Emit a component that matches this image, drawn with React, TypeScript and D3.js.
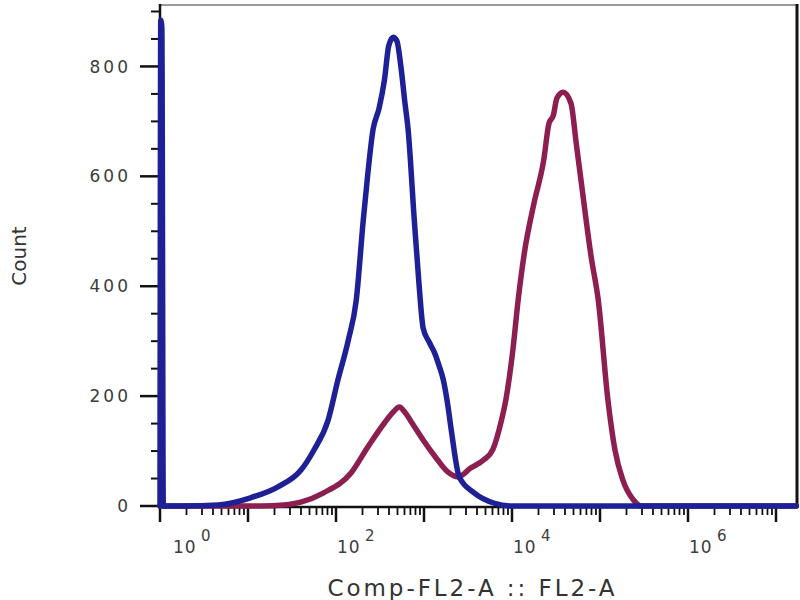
import React, { useEffect } from 'react';
import * as d3 from 'd3';

// FL2-A intensity values and event counts
const blueFL2 = [1, 1.02, 1.05, 1.09, 1.86, 4.6, 10.7, 21.9, 39.8, 56.2, 81.3, 105, 138, 170, 204, 229, 263, 309, 355, 398, 447, 490, 550, 603, 661, 776, 871, 977, 1148, 1349, 1479, 1660, 1862, 2042, 2512, 3715, 6310, 9772, 17000000];
const blueCount = [0, 884, 870, 0, 0, 2, 15, 35, 65, 102, 156, 229, 302, 375, 520, 602, 684, 724, 775, 838, 853, 847, 796, 738, 684, 520, 411, 324, 298, 275, 256, 229, 184, 138, 53, 24, 5, 0, 0];

const redFL2 = [1, 14.1, 25.7, 39.8, 72.4, 148, 229, 355, 447, 525, 603, 759, 977, 1380, 1862, 2455, 3388, 4786, 6026, 7586, 8511, 10230, 11750, 13800, 17780, 22900, 26300, 29500, 32360, 38020, 46770, 53700, 60260, 79430, 95500, 123000, 147900, 182000, 239900, 295100, 17000000];
const redCount = [0, 0, 2, 7, 24, 60, 107, 151, 171, 180, 171, 147, 120, 87, 62, 53, 69, 84, 102, 156, 193, 284, 375, 460, 551, 629, 696, 711, 742, 753, 733, 660, 598, 453, 375, 193, 102, 47, 11, 0, 0];

const yTickValues = [0, 200, 400, 600, 800];
const xLabelExponents = [0, 2, 4, 6];
const xTitle = 'Comp-FL2-A :: FL2-A';
const yTitle = 'Count';

const BLUE = '#1e2096';
const RED = '#8c1e50';
const FONT = 'DejaVu Sans, Verdana, sans-serif';

export default function App() {
  useEffect(() => {
    document.body.style.margin = '0';
  }, []);

  const left = 160, right = 798, top = 6, bottom = 506;
  const x = d3.scaleLog().domain([1, Math.pow(10, 7.25)]).range([left, right]);
  const y = d3.scaleLinear().domain([0, 910]).range([bottom, top]);

  const line = d3
    .line<[number, number]>()
    .x((d) => x(d[0]))
    .y((d) => y(d[1]))
    .curve(d3.curveMonotoneX);

  const blueData = blueFL2.map((v, i) => [v, blueCount[i]] as [number, number]);
  const redData = redFL2.map((v, i) => [v, redCount[i]] as [number, number]);

  const yMinor = d3.range(0, 901, 50).filter((v) => !yTickValues.includes(v));

  const xMajor: number[] = [];
  const xMinor: number[] = [];
  const xMax = Math.pow(10, 7.25);
  for (let d = 0; d <= 7; d++) {
    xMajor.push(Math.pow(10, d));
    for (let k = 2; k <= 9; k++) {
      const v = k * Math.pow(10, d);
      if (v <= xMax) xMinor.push(v);
    }
  }

  const axisY = 507;

  return (
    <svg
      width={800}
      height={600}
      style={{ position: 'fixed', left: 0, top: 0, background: '#fff' }}
    >
      <rect x={0} y={0} width={800} height={600} fill="#fff" />
      {/* frame */}
      <line x1={left} x2={right} y1={5} y2={5} stroke="#9a9a9a" strokeWidth={2} />
      <line x1={797} x2={797} y1={4} y2={axisY} stroke="#111" strokeWidth={3} />
      <line x1={left} x2={left} y1={4} y2={axisY + 1} stroke="#111" strokeWidth={2.5} />
      <line x1={left - 1} x2={right} y1={axisY} y2={axisY} stroke="#111" strokeWidth={2.5} />

      {/* y ticks */}
      {yTickValues.map((v) => (
        <g key={'yt' + v}>
          <line x1={left - 20} x2={left} y1={y(v)} y2={y(v)} stroke="#111" strokeWidth={2.5} />
          <text
            x={131}
            y={y(v)}
            dy="0.36em"
            textAnchor="end"
            fontFamily={FONT}
            fontSize={17}
            letterSpacing={3}
            fill="#3c3c3c"
          >
            {v}
          </text>
        </g>
      ))}
      {yMinor.map((v) => (
        <line key={'ym' + v} x1={left - 9} x2={left} y1={y(v)} y2={y(v)} stroke="#111" strokeWidth={2} />
      ))}

      {/* x ticks */}
      {xMajor.map((v) => (
        <line key={'xM' + v} x1={x(v)} x2={x(v)} y1={axisY} y2={axisY + 15} stroke="#111" strokeWidth={2.5} />
      ))}
      {xMinor.map((v) => (
        <line key={'xm' + v} x1={x(v)} x2={x(v)} y1={axisY} y2={axisY + 8} stroke="#111" strokeWidth={1.8} />
      ))}
      {xLabelExponents.map((e) => {
        const px = Math.max(x(Math.pow(10, e)) + 1, 173);
        return (
          <g key={'xl' + e} fontFamily={FONT} fill="#3c3c3c">
            <text x={px} y={553} fontSize={17} letterSpacing={1}>
              10
            </text>
            <text x={px + 28} y={541} fontSize={15}>
              {e}
            </text>
          </g>
        );
      })}

      {/* histograms */}
      <path
        d={line(redData) || ''}
        fill="none"
        stroke={RED}
        strokeWidth={5.5}
        strokeLinejoin="round"
        strokeLinecap="round"
      />
      <path
        d={line(blueData) || ''}
        fill="none"
        stroke={BLUE}
        strokeWidth={5.5}
        strokeLinejoin="round"
        strokeLinecap="round"
      />

      {/* titles */}
      <text
        x={471}
        y={596}
        textAnchor="middle"
        fontFamily={FONT}
        fontSize={23}
        fill="#333"
        textLength={287}
        lengthAdjust="spacing"
      >
        {xTitle}
      </text>
      <text
        transform="translate(26,256) rotate(-90)"
        textAnchor="middle"
        fontFamily={FONT}
        fontSize={20}
        fill="#333"
      >
        {yTitle}
      </text>
    </svg>
  );
}
